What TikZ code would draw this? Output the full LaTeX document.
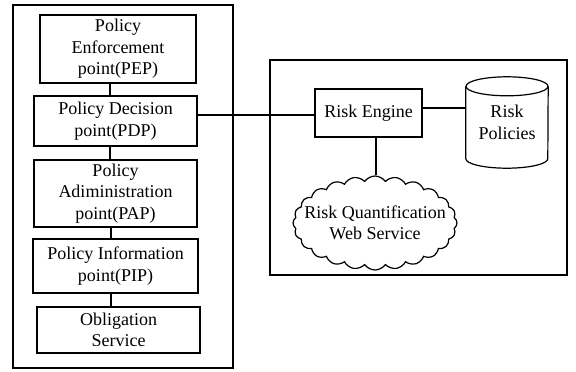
\documentclass[tikz,border=0pt]{standalone}
\usepackage{fontspec}
\setmainfont{Liberation Serif}
\usetikzlibrary{shapes.symbols}
\begin{document}
\begin{tikzpicture}[x=1pt,y=-1pt,
  lw/.style={line width=1.2pt},
  box/.style={draw,lw,align=center,inner sep=0pt,font=\fontsize{18}{21.5}\selectfont},
  plain/.style={align=center,inner sep=0pt,font=\fontsize{18}{21.5}\selectfont},
  link/.style={lw}]
\useasboundingbox (0,0) rectangle (576,372);
% containers
\node[draw,lw,minimum width=220pt,minimum height=363pt,inner sep=0pt] (left) at (123,186.5) {};
\node[draw,line width=1.4pt,minimum width=297pt,minimum height=215pt,inner sep=0pt] (right) at (418.5,167.5) {};
% left stack
\node[box,minimum width=156pt,minimum height=68pt] (pep) at (118,49) {Policy\\Enforcement\\point(PEP)};
\node[box,minimum width=163pt,minimum height=50pt] (pdp) at (115.5,121) {Policy Decision\\point(PDP)};
\node[box,minimum width=163pt,minimum height=67pt] (pap) at (115.5,193.5) {Policy\\Adiministration\\point(PAP)};
\node[box,minimum width=165pt,minimum height=54pt] (pip) at (115.5,266) {Policy Information\\point(PIP)};
\node[box,minimum width=163pt,minimum height=46pt] (obl) at (118.5,330) {Obligation\\Service};
\coordinate (vx) at (110,0);
\coordinate (vy) at (111,0);
\draw[link] (pep.south -| vx) -- (pdp.north -| vx);
\draw[link] (pdp.south -| vx) -- (pap.north -| vx);
\draw[link] (pap.south -| vy) -- (pip.north -| vy);
\draw[link] (pip.south -| vy) -- (obl.north -| vy);
% right side
\node[box,minimum width=107pt,minimum height=48pt] (eng) at (368.5,113) {Risk Engine};
\node[plain,minimum width=82pt,minimum height=91pt] (cyl) at (507,122.5) {Risk\\Policies};
\draw[lw] ([yshift=-9.5pt]cyl.north) ellipse [x radius=41pt, y radius=9.5pt];
\draw[lw] ([yshift=-9.5pt]cyl.north west) -- ([yshift=9.5pt]cyl.south west)
  arc[start angle=180,end angle=360,x radius=41pt,y radius=9.5pt] -- ([yshift=-9.5pt]cyl.north east);
\node[cloud,draw,lw,cloud puffs=24,cloud puff arc=110,cloud ignores aspect,
  minimum width=164pt,minimum height=94pt,inner sep=0pt] (cloud) at (375,223) {};
\node[plain] (cloudtext) at (cloud.center) {Risk Quantification\\Web Service};
% connectors
\coordinate (hy) at (0,115);
\draw[link] (pdp.east |- hy) -- (eng.west |- hy);
\coordinate (cy) at (0,108);
\draw[link] (eng.east |- cy) -- (cyl.west |- cy);
\coordinate (cx) at (376,0);
\draw[link] (eng.south -| cx) -- (cloud.north -| cx);
\end{tikzpicture}
\end{document}
